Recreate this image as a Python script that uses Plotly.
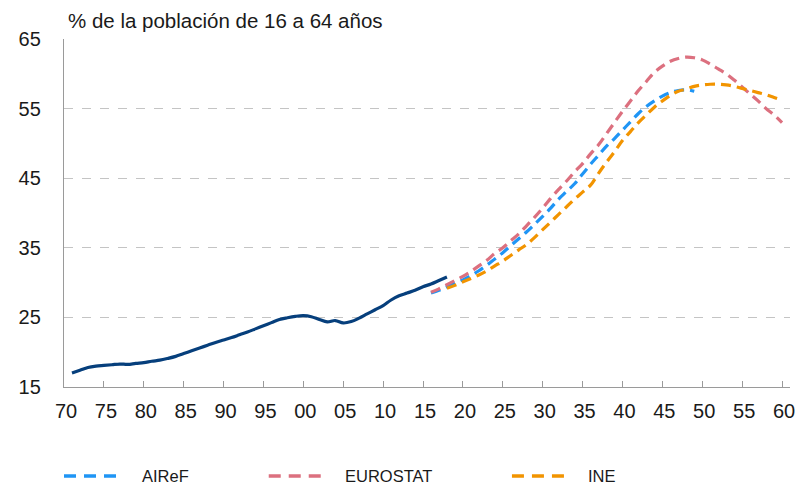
import plotly.graph_objects as go

# historico (linea continua)
hist_years = list(range(1971, 2019))
hist_vals = [17.0, 17.4, 17.8, 18.0, 18.1, 18.2, 18.3, 18.25, 18.4, 18.5,
             18.7, 18.85, 19.1, 19.4, 19.8, 20.2, 20.6, 21.0, 21.4, 21.75,
             22.1, 22.5, 22.9, 23.35, 23.8, 24.25, 24.7, 24.95, 25.15, 25.25,
             25.1, 24.7, 24.35, 24.55, 24.2, 24.4, 24.9, 25.5, 26.1, 26.7,
             27.5, 28.1, 28.5, 28.9, 29.4, 29.8, 30.3, 30.8]

airef_years = list(range(2016, 2050))
airef_vals = [28.5, 28.9, 29.4, 29.9, 30.4, 31.0, 31.7, 32.5, 33.4, 34.3,
              35.3, 36.3, 37.3, 38.4, 39.5, 40.7, 42.0, 43.1, 44.2, 45.6,
              47.0, 48.3, 49.6, 50.7, 51.9, 53.1, 54.3, 55.3, 56.1, 56.8,
              57.3, 57.6, 57.7, 57.5]

eurostat_years = list(range(2016, 2061))
eurostat_vals = [28.6, 29.1, 29.7, 30.3, 30.9, 31.6, 32.4, 33.2, 34.2, 35.0,
                 36.0, 37.0, 38.2, 39.4, 40.7, 42.1, 43.4, 44.6, 45.9, 47.1,
                 48.5, 49.8, 51.4, 53.0, 54.6, 56.1, 57.6, 58.9, 60.2, 61.1,
                 61.8, 62.2, 62.4, 62.3, 62.0, 61.4, 60.7, 60.0, 59.1, 58.1,
                 57.1, 56.1, 55.0, 54.1, 53.0]

ine_years = list(range(2018, 2061))
ine_vals = [29.2, 29.6, 30.1, 30.6, 31.1, 31.7, 32.4, 33.1, 33.9, 34.7,
            35.5, 36.5, 37.6, 38.7, 39.8, 40.9, 42.0, 43.0, 44.0, 45.7,
            47.3, 48.8, 50.4, 51.7, 53.0, 54.1, 55.2, 56.1, 56.9, 57.5,
            57.8, 58.2, 58.4, 58.5, 58.5, 58.4, 58.2, 57.9, 57.6, 57.3,
            57.0, 56.6, 56.2]

tick_years = list(range(1970, 2061, 5))
tick_labels = ['%02d' % (y % 100) for y in tick_years]
y_ticks = [15, 25, 35, 45, 55, 65]

series = [
    ('AIReF', airef_years, airef_vals, '#1f95f5'),
    ('EUROSTAT', eurostat_years, eurostat_vals, '#dc707f'),
    ('INE', ine_years, ine_vals, '#f29400'),
]

font = 'Liberation Sans, Arial, sans-serif'

fig = go.Figure()
fig.add_trace(go.Scatter(x=hist_years, y=hist_vals, mode='lines',
                         line=dict(color='#063f7c', width=3.2, shape='spline'),
                         showlegend=False))
for name, xs, ys, col in series:
    fig.add_trace(go.Scatter(x=xs, y=ys, mode='lines', name=name,
                             line=dict(color=col, width=3.2, dash='10px,6px', shape='spline'),
                             showlegend=False))

# leyenda manual (segmentos largos como en el original)
# page has an 8px body margin, so the figure is 8px smaller and margins shifted
leg_y = -0.256
leg_pos = [(0.0, 0.104), (0.282, 0.384), (0.617, 0.719)]
for (name, xs, ys, col), (x0, xt) in zip(series, leg_pos):
    fig.add_shape(type='line', xref='paper', yref='paper',
                  x0=x0, x1=x0 + 0.08, y0=leg_y, y1=leg_y,
                  line=dict(color=col, width=3.5, dash='12px,8px'))
    fig.add_annotation(xref='paper', yref='paper', x=xt, y=leg_y,
                       text=name, showarrow=False, xanchor='left', yanchor='middle',
                       font=dict(family=font, size=16.5, color='#1a1a1a'))

fig.add_annotation(xref='paper', yref='paper', x=0.003, y=1, yshift=19,
                   text='% de la población de 16 a 64 años', showarrow=False,
                   xanchor='left', yanchor='middle',
                   font=dict(family=font, size=20.5, color='#1a1a1a'))

fig.update_xaxes(range=[1970, 2061], tickvals=tick_years, ticktext=tick_labels,
                 ticks='inside', ticklen=6, tickcolor='#9a9a9a',
                 showline=True, linecolor='#9a9a9a', linewidth=1.3,
                 showgrid=False, zeroline=False, ticklabelshift=2, ticklabelstandoff=6,
                 tickfont=dict(family=font, size=20, color='#1a1a1a'))
fig.update_yaxes(range=[15, 65], tickvals=y_ticks,
                 showline=True, linecolor='#9a9a9a', linewidth=1.3,
                 showgrid=True, gridcolor='#c4c4c4', griddash='dash', gridwidth=1,
                 zeroline=False, ticks='', ticklabelstandoff=18,
                 tickfont=dict(family=font, size=20, color='#1a1a1a'))

fig.update_layout(width=798, height=477, plot_bgcolor='white', paper_bgcolor='white',
                  margin=dict(l=52, r=11, t=31, b=98), showlegend=False)

fig.write_html('out.html')
